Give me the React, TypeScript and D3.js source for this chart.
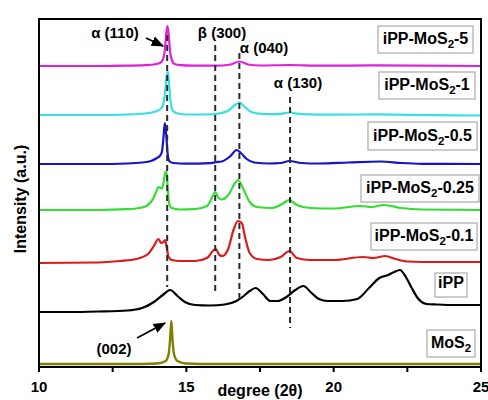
import React from 'react';
import * as d3 from 'd3';

// ---- data: [degree 2θ, relative intensity (a.u.)] ----
const mos2_5: [number, number][] = [
  [10, 0], [12, 0], [13, 0.3], [13.6, 0.8], [13.9, 1.5], [14.1, 3], [14.2, 6], [14.27, 16], [14.32, 33],
  [14.36, 40], [14.4, 32], [14.45, 14], [14.52, 5], [14.6, 2], [14.8, 0.8], [15.2, 0.3], [16, 0.3],
  [16.5, 1.5], [16.8, 4.5], [17.1, 1.5], [17.5, 0.5], [18.5, 1], [19.5, 0.3], [21.5, 0.6], [25, 0],
];
const mos2_1: [number, number][] = [
  [10, 0], [12, 0], [13, 0.5], [13.6, 1.5], [13.9, 3], [14.1, 5.5], [14.2, 9], [14.27, 20], [14.32, 36],
  [14.37, 44], [14.42, 30], [14.47, 12], [14.55, 4], [14.7, 1.5], [15, 0.5], [15.6, 0.5], [16, 1],
  [16.4, 4], [16.7, 11], [16.8, 12.5], [16.95, 9], [17.2, 3], [17.6, 1], [18.1, 0.8], [18.5, 2.5],
  [18.9, 0.8], [20, 0.3], [21.5, 0.6], [22.5, 0.2], [25, -0.5],
];
const mos2_05: [number, number][] = [
  [10, 0], [12, 0], [13, 0.5], [13.5, 1.5], [13.8, 3], [14.0, 6], [14.1, 8], [14.17, 12], [14.22, 25],
  [14.27, 41], [14.31, 32], [14.36, 12], [14.42, 3], [14.55, 1], [15, 0.3], [15.8, 0.8], [16.0, 1.8],
  [16.2, 2.5], [16.5, 8], [16.7, 14], [16.85, 11], [17.05, 5], [17.3, 1.5], [17.8, 0.5], [18.2, 1],
  [18.5, 3], [18.9, 1], [19.5, 0.5], [20.5, 1.5], [21.6, 2.5], [22.3, 1], [23, 0.2], [25, 0],
];
const mos2_025: [number, number][] = [
  [10, 0], [12, 0], [13, 0.8], [13.5, 2.5], [13.8, 8], [13.95, 16], [14.05, 23], [14.12, 22], [14.18, 21.5],
  [14.24, 30], [14.29, 38], [14.33, 38], [14.37, 20], [14.42, 6], [14.5, 2], [14.8, 0.5], [15.3, 1],
  [15.7, 4], [15.88, 13], [15.97, 18], [16.1, 12], [16.2, 10.5], [16.45, 16], [16.65, 27], [16.76, 30],
  [16.95, 20], [17.15, 8], [17.4, 3], [17.9, 2], [18.25, 6], [18.5, 10], [18.75, 5], [19.2, 2], [20, 1.5],
  [20.9, 4], [21.3, 3], [21.7, 5], [22.3, 2], [23, 0.5], [25, 0],
];
const mos2_01: [number, number][] = [
  [10, 0], [12, 0.5], [12.75, 2], [13.3, 4], [13.7, 9], [13.9, 17], [14.05, 24], [14.15, 20], [14.22, 21],
  [14.28, 23], [14.33, 16], [14.4, 6], [14.5, 3], [14.8, 2], [15.3, 2], [15.7, 5], [15.9, 12], [16.0, 14],
  [16.12, 8], [16.22, 7], [16.42, 14], [16.6, 33], [16.75, 42], [16.88, 40], [17.0, 25], [17.15, 10],
  [17.4, 4], [17.8, 3], [18.2, 6], [18.5, 12], [18.75, 5], [19.2, 3], [20, 3], [21.0, 6], [21.35, 5],
  [21.75, 7], [22.1, 4], [22.5, 1.5], [23.5, 1], [25, 1],
];
const ipp: [number, number][] = [
  [10, 0], [11, 0], [12, 0.5], [13, 1.5], [13.5, 4], [13.9, 10], [14.2, 17], [14.45, 22], [14.7, 16],
  [14.95, 10], [15.3, 7], [15.8, 6.5], [16.3, 7.5], [16.7, 11], [16.95, 16], [17.15, 21], [17.35, 24],
  [17.6, 18], [17.85, 11], [18.1, 11], [18.4, 15], [18.7, 22], [18.97, 26], [19.25, 19], [19.5, 13],
  [19.8, 11], [20.3, 11], [20.8, 13], [21.2, 24], [21.55, 34], [21.85, 37], [22.05, 40], [22.25, 42],
  [22.45, 35], [22.65, 24], [22.85, 14], [23.15, 8], [23.5, 7.5], [24.2, 7], [25, 7],
];
const mos2: [number, number][] = [
  [10, 0], [13, 0], [14.0, 0.5], [14.3, 3], [14.4, 10], [14.45, 25], [14.49, 43], [14.53, 25],
  [14.58, 10], [14.7, 3], [15, 0.5], [16, 0], [25, 0],
];

const SERIES_LABELS = ['iPP-MoS2-5', 'iPP-MoS2-1', 'iPP-MoS2-0.5', 'iPP-MoS2-0.25', 'iPP-MoS2-0.1', 'iPP', 'MoS2'];
const SERIES_DATA = [mos2_5, mos2_1, mos2_05, mos2_025, mos2_01, ipp, mos2];
const SERIES_OFFSETS = [301, 252, 203, 157, 104, 55, 3];
const SERIES_COLORS = ['#e020dc', '#3ae0e0', '#1414c8', '#33dd33', '#dd1a1a', '#000000', '#7f7f00'];

const X_TICKS = [10, 15, 20, 25];
const X_MINOR_TICKS = [12.5, 17.5, 22.5];

const PEAK_LINES = [14.35, 15.98, 16.8, 18.52];
const PEAK_LABELS = ['α (110)', 'β (300)', 'α (040)', 'α (130)'];

const FONT = '"Liberation Sans", Arial, Helvetica, sans-serif';

function Label({ text, x, y, size }: { text: string; x: number; y: number; size: number }) {
  const i = text.indexOf('MoS2');
  if (i < 0) {
    return (
      <text x={x} y={y} textAnchor="middle" fontSize={size} fontWeight="bold" fontFamily={FONT}>{text}</text>
    );
  }
  const before = text.slice(0, i + 3);
  const after = text.slice(i + 4);
  return (
    <text x={x} y={y} textAnchor="middle" fontSize={size} fontWeight="bold" fontFamily={FONT}>
      {before}
      <tspan dy={4} fontSize={size * 0.72}>2</tspan>
      {after ? <tspan dy={-4}>{after}</tspan> : null}
    </text>
  );
}

export default function App() {
  const W = 488;
  const H = 400;
  const left = 39, right = 481, top = 19, bottom = 367;
  const x = d3.scaleLinear().domain([10, 25]).range([left, right]);
  const y = d3.scaleLinear().domain([0, bottom - top]).range([bottom, top]);

  const lines = SERIES_DATA.map((data, i) =>
    d3.line<[number, number]>()
      .x((d) => x(d[0]))
      .y((d) => y(SERIES_OFFSETS[i] + d[1]))
      .curve(d3.curveMonotoneX)(data) as string
  );

  // legend boxes: [x1, x2, y1, y2]
  const legendBoxes = [
    [378, 473, 26, 53],
    [379, 475, 72, 99],
    [368, 477, 122, 150],
    [361, 479, 175, 202],
    [371, 477, 223, 250],
    [435, 467, 273, 297],
    [427, 475, 330, 357],
  ];
  // peak-line vertical extents (pixels)
  const peakLineY = [[35, 287], [45, 295], [53, 300], [97, 328]];
  const peakLabelPos = [[115, 38], [222, 38], [264, 53], [298, 88]];

  return (
    <svg width={W} height={H} style={{ position: 'absolute', left: 0, top: 0, background: '#fff' }}>
      <defs>
        <marker id="arr" viewBox="0 0 10 10" refX="9" refY="5" markerWidth="7" markerHeight="7" orient="auto">
          <path d="M0,1 L10,5 L0,9 z" fill="#000" />
        </marker>
      </defs>
      <rect x={0} y={0} width={W} height={H} fill="#fff" />

      {SERIES_DATA.map((_, i) => (
        <path key={i} d={lines[i]} fill="none" stroke={SERIES_COLORS[i]} strokeWidth={i === 6 ? 2.4 : 2.2}
          strokeLinejoin="round" />
      ))}

      {PEAK_LINES.map((p, i) => (
        <line key={i} x1={x(p)} x2={x(p)} y1={peakLineY[i][0]} y2={peakLineY[i][1]}
          stroke="#2a2a2a" strokeWidth={2} strokeDasharray="6,4" />
      ))}
      {PEAK_LABELS.map((t, i) => (
        <text key={i} x={peakLabelPos[i][0]} y={peakLabelPos[i][1]} textAnchor="middle" fontSize={15}
          fontWeight="bold" fontFamily={FONT}>{t}</text>
      ))}
      <line x1={146} y1={38} x2={163} y2={46} stroke="#000" strokeWidth={1.8} markerEnd="url(#arr)" />
      <text x={114} y={354} textAnchor="middle" fontSize={15} fontWeight="bold" fontFamily={FONT}>(002)</text>
      <line x1={137} y1={338} x2={165} y2={323} stroke="#000" strokeWidth={1.8} markerEnd="url(#arr)" />

      {SERIES_LABELS.map((t, i) => {
        const b = legendBoxes[i];
        return (
          <g key={i}>
            <rect x={b[0]} y={b[2]} width={b[1] - b[0]} height={b[3] - b[2]} fill="#fff" stroke="#999" strokeWidth={1} />
            <Label text={t} x={(b[0] + b[1]) / 2} y={b[3] - 9} size={16} />
          </g>
        );
      })}

      {/* frame */}
      <rect x={left} y={top} width={right - left} height={bottom - top} fill="none" stroke="#000" strokeWidth={2} />

      {/* x axis ticks */}
      {X_TICKS.map((t) => (
        <g key={t}>
          <line x1={x(t)} x2={x(t)} y1={bottom} y2={bottom + 5} stroke="#000" strokeWidth={2} />
          <text x={x(t)} y={392} textAnchor="middle" fontSize={15} fontWeight="bold" fontFamily={FONT}>{t}</text>
        </g>
      ))}
      {X_MINOR_TICKS.map((t) => (
        <line key={t} x1={x(t)} x2={x(t)} y1={bottom} y2={bottom + 5} stroke="#000" strokeWidth={2} />
      ))}
      <text x={260} y={396} textAnchor="middle" fontSize={16} fontWeight="bold" fontFamily={FONT}>degree (2θ)</text>
      <text transform="translate(26,199) rotate(-90)" textAnchor="middle" fontSize={16} fontWeight="bold"
        fontFamily={FONT}>Intensity (a.u.)</text>
    </svg>
  );
}
